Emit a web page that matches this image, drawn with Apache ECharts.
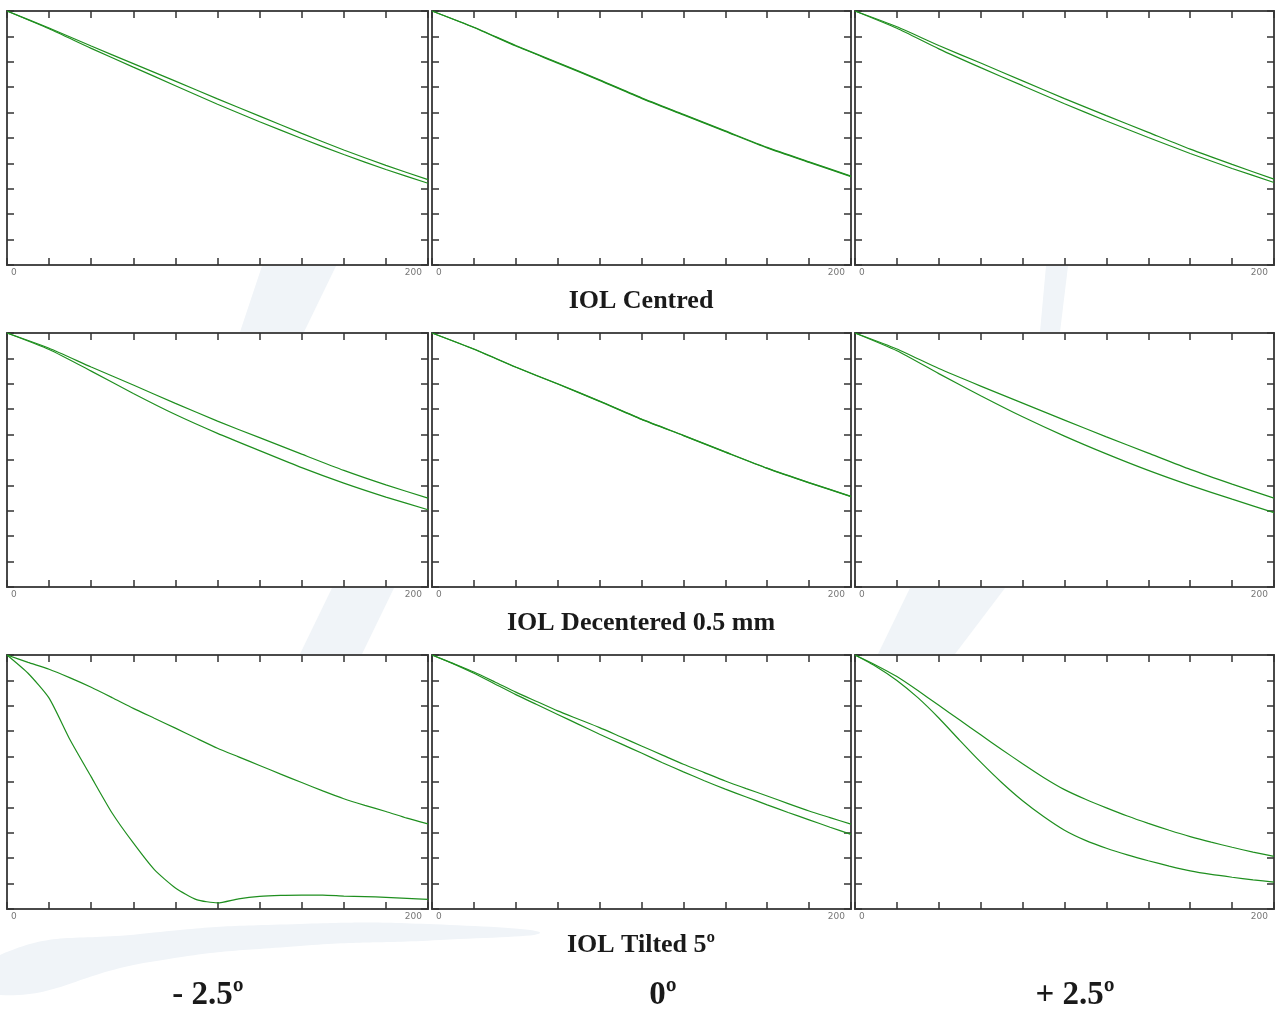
<!DOCTYPE html>
<html>
<head>
<meta charset="utf-8">
<script src="https://cdn.jsdelivr.net/npm/echarts@6/dist/echarts.min.js"></script>
<style>
  html, body { margin: 0; padding: 0; background: #fff; }
  #main { width: 1276px; height: 1010px; }
</style>
</head>
<body>
<div id="main"></div>
<script>
// spatial frequency (x) samples
const freq20 = [0, 20, 40, 60, 80, 100, 120, 140, 160, 180, 200];
const freq10 = [0, 10, 20, 30, 40, 50, 60, 70, 80, 90, 100, 110, 120, 130, 140, 150, 160, 170, 180, 190, 200];

// row 1 - IOL centred
const centredNegA = [1, 0.933, 0.862, 0.793, 0.724, 0.654, 0.586, 0.518, 0.453, 0.392, 0.336];
const centredNegB = [1, 0.930, 0.853, 0.779, 0.706, 0.633, 0.564, 0.498, 0.435, 0.376, 0.322];
const centredZeroA = [1, 0.936, 0.864, 0.797, 0.729, 0.658, 0.593, 0.528, 0.463, 0.406, 0.350];
const centredZeroB = [1, 0.935, 0.862, 0.795, 0.727, 0.656, 0.591, 0.526, 0.461, 0.404, 0.348];
const centredPosA = [1, 0.938, 0.864, 0.795, 0.725, 0.655, 0.588, 0.522, 0.456, 0.396, 0.338];
const centredPosB = [1, 0.932, 0.851, 0.777, 0.706, 0.635, 0.567, 0.502, 0.439, 0.380, 0.325];

// row 2 - IOL decentered 0.5 mm
const decentNegA = [1, 0.940, 0.866, 0.795, 0.723, 0.653, 0.588, 0.523, 0.459, 0.402, 0.350];
const decentNegB = [1, 0.935, 0.850, 0.762, 0.679, 0.605, 0.537, 0.470, 0.409, 0.354, 0.304];
const decentZeroA = [1, 0.937, 0.866, 0.800, 0.732, 0.661, 0.597, 0.532, 0.468, 0.411, 0.357];
const decentZeroB = [1, 0.936, 0.865, 0.799, 0.731, 0.660, 0.596, 0.531, 0.467, 0.410, 0.356];
const decentPosA = [1, 0.937, 0.860, 0.791, 0.724, 0.657, 0.591, 0.527, 0.463, 0.405, 0.350];
const decentPosB = [1, 0.930, 0.840, 0.753, 0.670, 0.594, 0.524, 0.459, 0.400, 0.346, 0.293];

// row 3 - IOL tilted 5º
const tiltNegA = [1, 0.971, 0.944, 0.910, 0.873, 0.832, 0.790, 0.751, 0.712, 0.672, 0.633, 0.599, 0.565, 0.531, 0.498, 0.465, 0.434, 0.408, 0.384, 0.358, 0.335];
const tiltNegB = [1, 0.928, 0.830, 0.665, 0.520, 0.377, 0.260, 0.155, 0.083, 0.037, 0.024, 0.040, 0.050, 0.054, 0.055, 0.055, 0.051, 0.049, 0.046, 0.042, 0.038];
const tiltZeroA = [1, 0.967, 0.933, 0.894, 0.854, 0.817, 0.780, 0.747, 0.714, 0.678, 0.642, 0.606, 0.570, 0.537, 0.504, 0.474, 0.445, 0.415, 0.386, 0.360, 0.334];
const tiltZeroB = [1, 0.966, 0.928, 0.886, 0.844, 0.805, 0.766, 0.727, 0.688, 0.651, 0.614, 0.576, 0.540, 0.505, 0.472, 0.441, 0.410, 0.380, 0.351, 0.322, 0.294];
const tiltPosA = [1, 0.960, 0.915, 0.860, 0.802, 0.744, 0.686, 0.628, 0.572, 0.518, 0.470, 0.432, 0.398, 0.366, 0.337, 0.310, 0.285, 0.263, 0.243, 0.224, 0.207];
const tiltPosB = [1, 0.955, 0.900, 0.832, 0.752, 0.664, 0.578, 0.498, 0.426, 0.364, 0.310, 0.270, 0.239, 0.213, 0.190, 0.169, 0.150, 0.136, 0.125, 0.115, 0.106];

const rowTitles = ['IOL Centred', 'IOL Decentered 0.5 mm', 'IOL Tilted 5º'];
const colLabels = ['- 2.5º', '0º', '+ 2.5º'];

const panels = [
  [freq20, centredNegA, centredNegB], [freq20, centredZeroA, centredZeroB], [freq20, centredPosA, centredPosB],
  [freq20, decentNegA, decentNegB], [freq20, decentZeroA, decentZeroB], [freq20, decentPosA, decentPosB],
  [freq10, tiltNegA, tiltNegB], [freq10, tiltZeroA, tiltZeroB], [freq10, tiltPosA, tiltPosB]
];

const colLeft = [7, 432, 855];
const colWidth = [421, 419, 419];
const rowTop = [11, 333, 655];
const rowHeight = 254;
const green = '#1f8f1f';
const tickStyle = { show: true, inside: true, length: 7, lineStyle: { color: '#333', width: 1.5 } };
const noLine = { show: false, onZero: false };

const grid = [], xAxis = [], yAxis = [], series = [];

panels.forEach((p, i) => {
  const r = Math.floor(i / 3), c = i % 3;
  grid.push({
    left: colLeft[c], top: rowTop[r], width: colWidth[c], height: rowHeight,
    show: true, borderColor: '#4a4a4a', borderWidth: 2, backgroundColor: '#fff'
  });
  // bottom axis with 0 / 200 labels
  xAxis.push({
    type: 'value', gridIndex: i, min: 0, max: 200, interval: 20, position: 'bottom', z: 5,
    axisLine: noLine, splitLine: { show: false }, axisTick: tickStyle,
    axisLabel: {
      interval: 0, margin: 3, fontSize: 9, color: '#777', fontFamily: 'DejaVu Sans',
      alignMinLabel: 'left', alignMaxLabel: 'right', padding: [0, 6, 0, 4],
      formatter: v => (v === 0 || v === 200) ? String(v) : ''
    }
  });
  xAxis.push({
    type: 'value', gridIndex: i, min: 0, max: 200, interval: 20, position: 'top', z: 5,
    axisLine: noLine, splitLine: { show: false }, axisTick: tickStyle,
    axisLabel: { show: false }
  });
  yAxis.push({
    type: 'value', gridIndex: i, min: 0, max: 1, interval: 0.1, position: 'left', z: 5,
    axisLine: noLine, splitLine: { show: false }, axisTick: tickStyle,
    axisLabel: { show: false }
  });
  yAxis.push({
    type: 'value', gridIndex: i, min: 0, max: 1, interval: 0.1, position: 'right', z: 5,
    axisLine: noLine, splitLine: { show: false }, axisTick: tickStyle,
    axisLabel: { show: false }
  });
  [p[1], p[2]].forEach(vals => {
    series.push({
      type: 'line', xAxisIndex: i * 2, yAxisIndex: i * 2, symbol: 'none',
      smooth: 0.2,
      silent: true, z: 6, lineStyle: { color: green, width: 1.2 },
      data: p[0].map((x, k) => [x, vals[k]])
    });
  });
});

// faint logo watermark behind the panels
const wm = '#f0f4f8';
const graphic = [
  { type: 'polygon', z: -10, silent: true, shape: { smooth: 0.5, points: [[0, 955], [140, 934], [300, 924], [450, 925], [540, 933], [440, 940], [300, 946], [150, 962], [0, 995]] }, style: { fill: wm } },
  { type: 'polygon', z: -10, silent: true, shape: { points: [[262, 266], [336, 266], [304, 332], [240, 332]] }, style: { fill: wm } },
  { type: 'polygon', z: -10, silent: true, shape: { points: [[332, 588], [394, 588], [362, 654], [300, 654]] }, style: { fill: wm } },
  { type: 'polygon', z: -10, silent: true, shape: { points: [[1046, 266], [1068, 266], [1060, 332], [1040, 332]] }, style: { fill: wm } },
  { type: 'polygon', z: -10, silent: true, shape: { points: [[910, 588], [1005, 588], [955, 654], [878, 654]] }, style: { fill: wm } }
];
const titleY = [301, 623, 945];
rowTitles.forEach((t, r) => {
  graphic.push({
    type: 'text', x: 641, y: titleY[r], z: 10,
    style: {
      text: t, fill: '#1a1a1a', font: 'bold 26px "Liberation Serif", serif',
      textAlign: 'center', textVerticalAlign: 'middle'
    }
  });
});
const colX = [208, 663, 1075];
colLabels.forEach((t, c) => {
  graphic.push({
    type: 'text', x: colX[c], y: 995, z: 10,
    style: {
      text: t, fill: '#1a1a1a', font: 'bold 33px "Liberation Serif", serif',
      textAlign: 'center', textVerticalAlign: 'middle'
    }
  });
});

const chart = echarts.init(document.getElementById('main'));
chart.setOption({
  animation: false,
  backgroundColor: '#fff',
  grid: grid,
  xAxis: xAxis,
  yAxis: yAxis,
  series: series,
  graphic: graphic
});
</script>
</body>
</html>
